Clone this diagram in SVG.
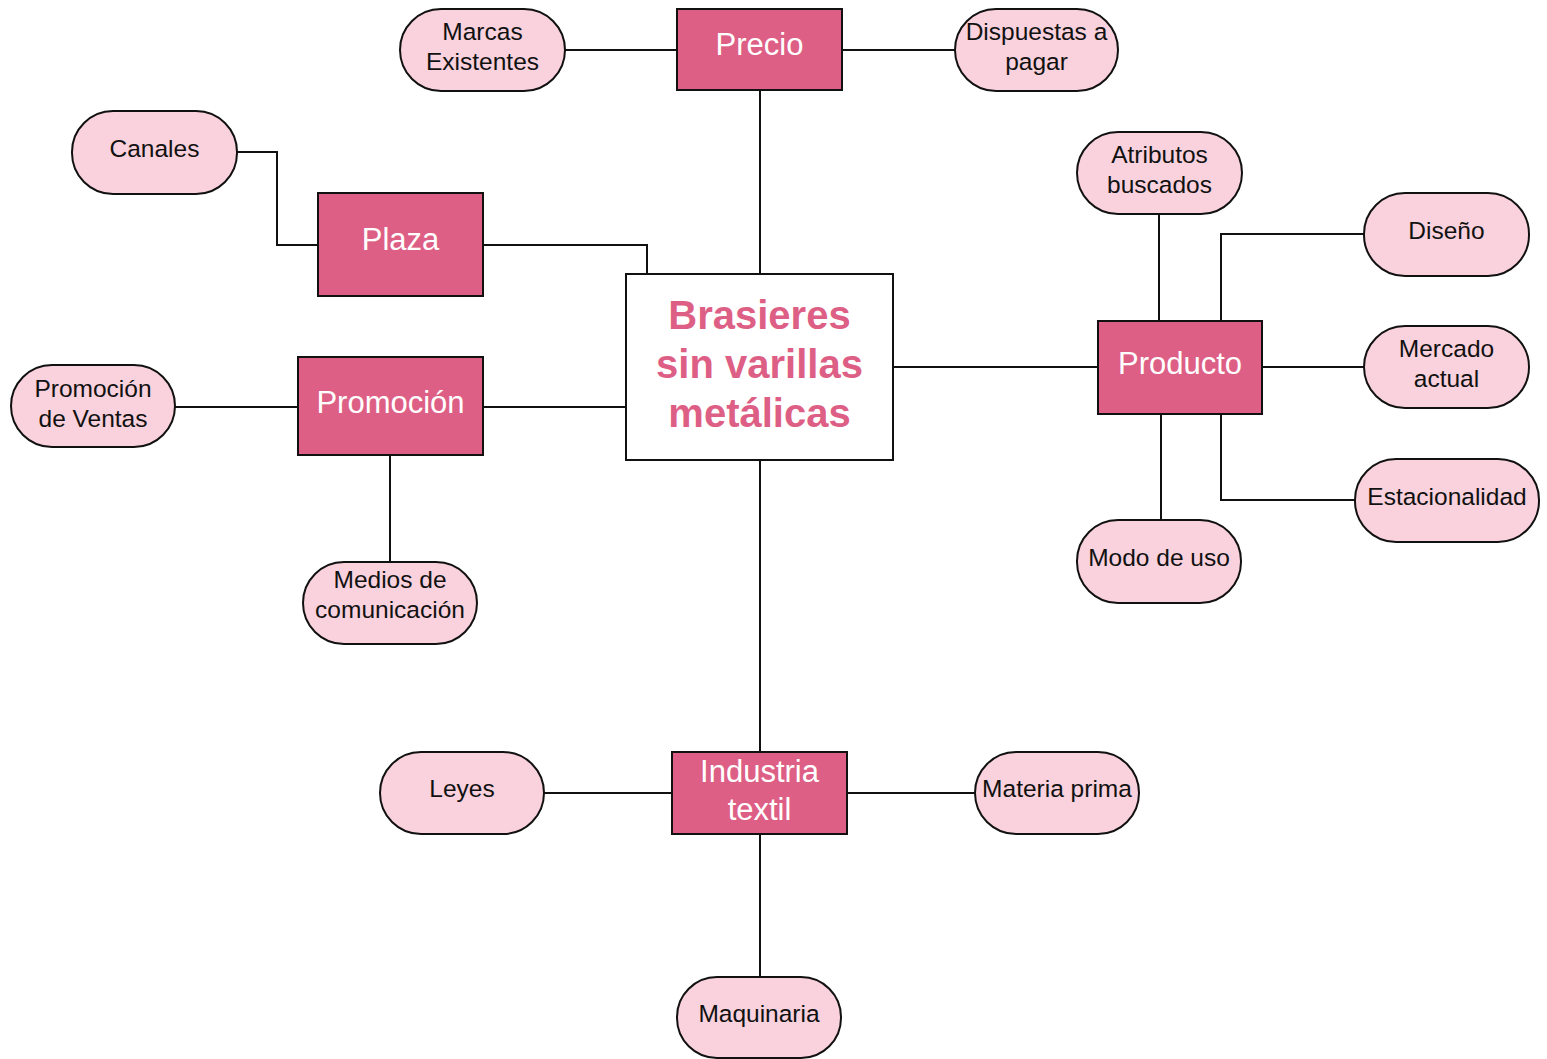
<svg xmlns="http://www.w3.org/2000/svg" width="1547" height="1059" viewBox="0 0 1547 1059">
  <style>
    .box { fill: #de5f85; stroke: #111; stroke-width: 2; }
    .pill { fill: #f9d2dd; stroke: #111; stroke-width: 2; }
    .core { fill: #fff; stroke: #111; stroke-width: 2; }
    .wire { fill: none; stroke: #111; stroke-width: 2; }
    .bt { font-family: "Liberation Sans", Arial, sans-serif; font-size: 31px; fill: #fff; text-anchor: middle; }
    .pt { font-family: "Liberation Sans", Arial, sans-serif; font-size: 24.5px; fill: #111; text-anchor: middle; }
    .ct { font-family: "Liberation Sans", Arial, sans-serif; font-size: 40px; font-weight: bold; fill: #de5f85; text-anchor: middle; }
  </style>
  <rect width="1547" height="1059" fill="#fff"/>

  <g id="connectors">
    <path class="wire" d="M565 50H677"/>
    <path class="wire" d="M842 50H955"/>
    <path class="wire" d="M760 90V274"/>
    <path class="wire" d="M237 152H277V245H318"/>
    <path class="wire" d="M483 245H647V274"/>
    <path class="wire" d="M175 407H298"/>
    <path class="wire" d="M483 407H626"/>
    <path class="wire" d="M390 455V562"/>
    <path class="wire" d="M893 367H1098"/>
    <path class="wire" d="M1159 214V321"/>
    <path class="wire" d="M1221 321V234H1364"/>
    <path class="wire" d="M1262 367H1364"/>
    <path class="wire" d="M1161 414V520"/>
    <path class="wire" d="M1221 414V500H1355"/>
    <path class="wire" d="M760 460V752"/>
    <path class="wire" d="M544 793H672"/>
    <path class="wire" d="M847 793H975"/>
    <path class="wire" d="M760 834V977"/>
  </g>

  <g id="center">
    <rect class="core" x="626" y="274" width="267" height="186"/>
    <text class="ct" x="759.5" y="329">Brasieres</text>
    <text class="ct" x="759.5" y="378">sin varillas</text>
    <text class="ct" x="759.5" y="427">metálicas</text>
  </g>

  <g id="precio">
    <rect class="box" x="677" y="9" width="165" height="81"/>
    <text class="bt" x="759.5" y="55">Precio</text>
  </g>
  <g id="marcas">
    <rect class="pill" x="400" y="9" width="165" height="82" rx="41"/>
    <text class="pt" x="482.5" y="40">Marcas</text>
    <text class="pt" x="482.5" y="70">Existentes</text>
  </g>
  <g id="dispuestas">
    <rect class="pill" x="955" y="9" width="163" height="82" rx="41"/>
    <text class="pt" x="1036.5" y="40">Dispuestas a</text>
    <text class="pt" x="1036.5" y="70">pagar</text>
  </g>

  <g id="plaza">
    <rect class="box" x="318" y="193" width="165" height="103"/>
    <text class="bt" x="400.5" y="250">Plaza</text>
  </g>
  <g id="canales">
    <rect class="pill" x="72" y="111" width="165" height="83" rx="41"/>
    <text class="pt" x="154.5" y="157">Canales</text>
  </g>

  <g id="promocion">
    <rect class="box" x="298" y="357" width="185" height="98"/>
    <text class="bt" x="390.5" y="413">Promoción</text>
  </g>
  <g id="promocion-ventas">
    <rect class="pill" x="11" y="365" width="164" height="82" rx="41"/>
    <text class="pt" x="93" y="397">Promoción</text>
    <text class="pt" x="93" y="427">de Ventas</text>
  </g>
  <g id="medios">
    <rect class="pill" x="303" y="562" width="174" height="82" rx="41"/>
    <text class="pt" x="390" y="588">Medios de</text>
    <text class="pt" x="390" y="618">comunicación</text>
  </g>

  <g id="producto">
    <rect class="box" x="1098" y="321" width="164" height="93"/>
    <text class="bt" x="1180" y="374">Producto</text>
  </g>
  <g id="atributos">
    <rect class="pill" x="1077" y="132" width="165" height="82" rx="41"/>
    <text class="pt" x="1159.5" y="163">Atributos</text>
    <text class="pt" x="1159.5" y="193">buscados</text>
  </g>
  <g id="diseno">
    <rect class="pill" x="1364" y="193" width="165" height="83" rx="41"/>
    <text class="pt" x="1446.5" y="238.5">Diseño</text>
  </g>
  <g id="mercado">
    <rect class="pill" x="1364" y="326" width="165" height="82" rx="41"/>
    <text class="pt" x="1446.5" y="357">Mercado</text>
    <text class="pt" x="1446.5" y="387">actual</text>
  </g>
  <g id="estacionalidad">
    <rect class="pill" x="1355" y="459" width="184" height="83" rx="41"/>
    <text class="pt" x="1447" y="504.5">Estacionalidad</text>
  </g>
  <g id="modo-uso">
    <rect class="pill" x="1077" y="520" width="164" height="83" rx="41"/>
    <text class="pt" x="1159" y="565.5">Modo de uso</text>
  </g>

  <g id="industria">
    <rect class="box" x="672" y="752" width="175" height="82"/>
    <text class="bt" x="759.5" y="782">Industria</text>
    <text class="bt" x="759.5" y="820">textil</text>
  </g>
  <g id="leyes">
    <rect class="pill" x="380" y="752" width="164" height="82" rx="41"/>
    <text class="pt" x="462" y="797">Leyes</text>
  </g>
  <g id="materia">
    <rect class="pill" x="975" y="752" width="164" height="82" rx="41"/>
    <text class="pt" x="1057" y="797">Materia prima</text>
  </g>
  <g id="maquinaria">
    <rect class="pill" x="677" y="977" width="164" height="81" rx="40"/>
    <text class="pt" x="759" y="1022">Maquinaria</text>
  </g>
</svg>
